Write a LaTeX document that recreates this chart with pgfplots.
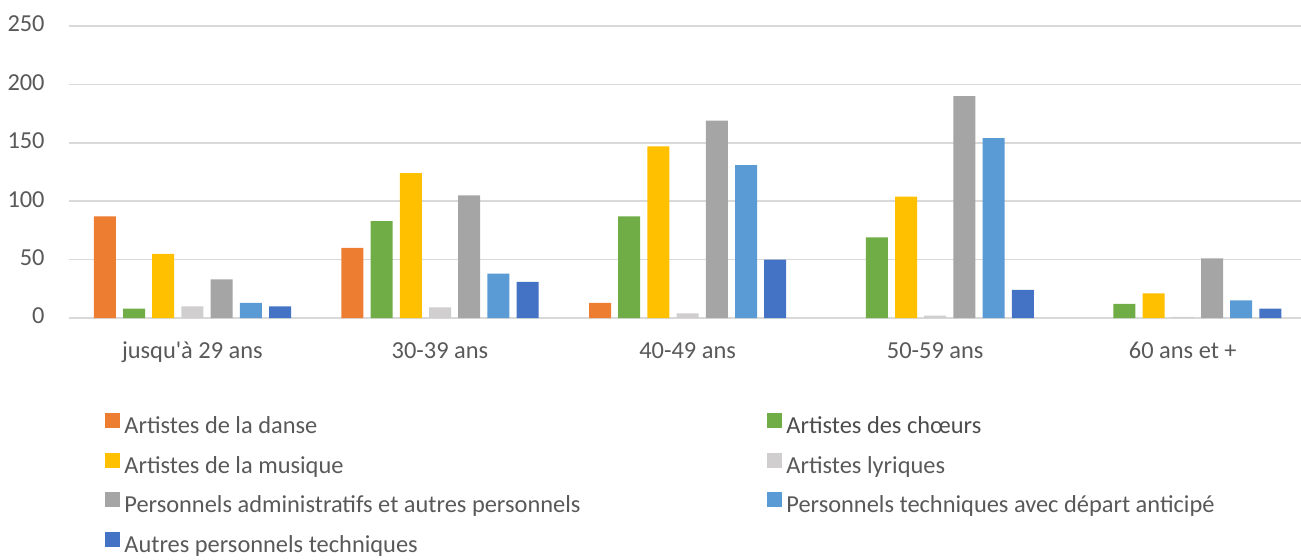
\documentclass[border=0pt]{standalone}
\usepackage{pgfplots}
\pgfplotsset{compat=1.18}
\usepackage{fontspec}
\setmainfont{Carlito}
\definecolor{cDanse}{HTML}{ED7D31}
\definecolor{cChoeurs}{HTML}{70AD47}
\definecolor{cMusique}{HTML}{FFC000}
\definecolor{cLyr}{HTML}{D0CECE}
\definecolor{cAdmin}{HTML}{A5A5A5}
\definecolor{cTechA}{HTML}{5B9BD5}
\definecolor{cTechB}{HTML}{4472C4}
\definecolor{txt}{HTML}{595959}
\definecolor{gridc}{HTML}{D9D9D9}
\newcommand{\lf}{\fontsize{12.2}{14}\selectfont}
\newcommand{\lb}[1]{\makebox[321.5pt][l]{#1}}
\begin{document}
\begin{tikzpicture}
\useasboundingbox (-34.3pt,-120.5pt) rectangle (616.2pt,159pt);
\begin{axis}[
  at={(0,0)}, anchor=south west,
  scale only axis, width=619pt, height=146pt,
  xmin=-0.5, xmax=4.5, ymin=0, ymax=250,
  ytick={0,50,100,150,200,250},
  xtick={0,1,2,3,4},
  xticklabels={jusqu\textquotesingle à 29 ans,30-39 ans,40-49 ans,50-59 ans,60 ans et +},
  axis line style={draw=none},
  major tick length=0pt,
  ymajorgrids, xmajorgrids=false,
  major grid style={draw=gridc, line width=0.75pt},
  /pgf/number format/assume math mode=true,
  tick label style={font=\lf, text=txt},
  yticklabel style={anchor=east, inner sep=0pt, xshift=-11.8pt, yshift=1pt},
  xticklabel style={anchor=base, inner sep=0pt, yshift=-20pt},
  ybar=3.6pt, bar width=11pt,
  legend columns=2,
  legend style={draw=none, fill=none, inner sep=0pt, at={(0,0)}, anchor=north west,
    xshift=18.2pt, yshift=-47.5pt, row sep=7.5pt,
    nodes={inner sep=0pt, text height=8.5pt, text depth=2pt, font=\lf, text=txt}},
  legend cell align=left,
  legend image code/.code={\fill[#1,draw=none] (0pt,-0.5pt) rectangle (7.5pt,7pt); \path (9.5pt,0pt);},
]
\addplot[fill=cDanse, draw=none] coordinates {(0,87) (1,60) (2,13)};
\addlegendentry{\lb{Artistes de la danse}}
\addplot[fill=cChoeurs, draw=none] coordinates {(0,8) (1,83) (2,87) (3,69) (4,12)};
\addlegendentry{\textcolor{black!70}{Artistes des chœurs}}
\addplot[fill=cMusique, draw=none] coordinates {(0,55) (1,124) (2,147) (3,104) (4,21)};
\addlegendentry{\lb{Artistes de la musique}}
\addplot[fill=cLyr, draw=none] coordinates {(0,10) (1,9) (2,4) (3,2) (4,1)};
\addlegendentry{Artistes lyriques}
\addplot[fill=cAdmin, draw=none] coordinates {(0,33) (1,105) (2,169) (3,190) (4,51)};
\addlegendentry{\lb{Personnels administratifs et autres personnels}}
\addplot[fill=cTechA, draw=none] coordinates {(0,13) (1,38) (2,131) (3,154) (4,15)};
\addlegendentry{Personnels techniques avec départ anticipé}
\addplot[fill=cTechB, draw=none] coordinates {(0,10) (1,31) (2,50) (3,24) (4,8)};
\addlegendentry{\lb{Autres personnels techniques}}
\end{axis}
\end{tikzpicture}
\end{document}
